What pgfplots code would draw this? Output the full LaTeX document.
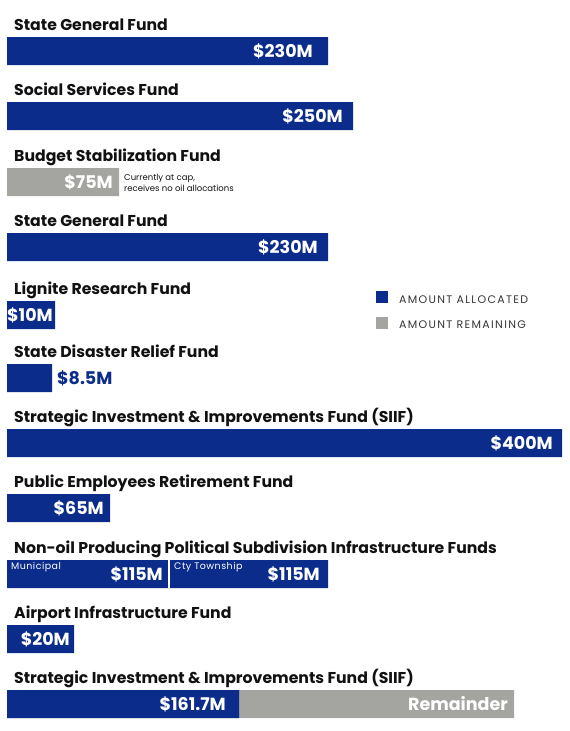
\documentclass[border=0pt]{standalone}
\usepackage{pgfplots}
\pgfplotsset{compat=1.18}
\usepackage{fontspec}
\setmainfont{Poppins}
\newfontfamily\legendfont{Poppins}[LetterSpace=12]
\newfontfamily\subfont{Poppins}[LetterSpace=5]
\definecolor{fundblue}{HTML}{0B2C8A}
\definecolor{fundgray}{HTML}{A4A4A1}
\definecolor{ink}{HTML}{111111}
\pgfplotsset{
  sqlegend/.style={legend image code/.code={\fill[##1] (0pt,-3pt) rectangle (12pt,9pt);}},
}
\tikzset{
  ttl/.style={anchor=base west, inner sep=0pt, text=ink, font=\fontsize{15.7}{18}\selectfont\bfseries},
  val/.style={anchor=base east, inner sep=0pt, text=white, font=\fontsize{17.5}{20}\selectfont\bfseries},
  sml/.style={anchor=base west, inner sep=0pt, font=\fontsize{8.5}{10}\selectfont},
}
\begin{document}
\begin{tikzpicture}
\begin{axis}[
  scale only axis, width=570pt, height=731pt,
  xmin=-7, xmax=563, ymin=0, ymax=731, y dir=reverse,
  axis line style={draw=none}, xtick=\empty, ytick=\empty,
  xbar, bar width=28, bar shift=0pt,
  sqlegend, reverse legend, legend cell align=left,
  legend style={draw=none, fill=none, at={(axis cs:369,291)}, anchor=north west,
    inner sep=0pt, row sep=12pt, nodes={inner sep=0pt},
    text=ink!85, font=\legendfont\fontsize{11}{12}\selectfont,
    /tikz/every odd column/.append style={column sep=11pt}},
]
% bar lengths as drawn, one row per fund (y = bar centre)
\addplot[fill=fundgray, draw=none] coordinates {(112,182) (507,704)};
\addlegendentry{AMOUNT REMAINING}
\addplot[fill=fundblue, draw=none] coordinates {
  (321,51) (346,116) (321,247) (48,315) (45,378)
  (555,443) (103,508) (321,574) (67,639) (232,704)};
\addlegendentry{AMOUNT ALLOCATED}
\addplot[fill=white, draw=none, forget plot] coordinates {(163,574)};
\addplot[fill=fundblue, draw=none, forget plot] coordinates {(161,574)};

\node[ttl] at (axis cs:7,30) {State General Fund};
\node[ttl] at (axis cs:7,95) {Social Services Fund};
\node[ttl] at (axis cs:7,161) {Budget Stabilization Fund};
\node[ttl] at (axis cs:7,226) {State General Fund};
\node[ttl] at (axis cs:7,294) {Lignite Research Fund};
\node[ttl] at (axis cs:7,357) {State Disaster Relief Fund};
\node[ttl] at (axis cs:7,422) {Strategic Investment \& Improvements Fund (SIIF)};
\node[ttl] at (axis cs:7,487) {Public Employees Retirement Fund};
\node[ttl] at (axis cs:7,553) {Non-oil Producing Political Subdivision Infrastructure Funds};
\node[ttl] at (axis cs:7,618) {Airport Infrastructure Fund};
\node[ttl] at (axis cs:7,683) {Strategic Investment \& Improvements Fund (SIIF)};

\node[val] at (axis cs:306,57) {\$230M};
\node[val] at (axis cs:336,122) {\$250M};
\node[val] at (axis cs:106,188) {\$75M};
\node[val] at (axis cs:311,253) {\$230M};
\node[val] at (axis cs:46,321) {\$10M};
\node[val, anchor=base west, text=fundblue] at (axis cs:50,384) {\$8.5M};
\node[val] at (axis cs:546,449) {\$400M};
\node[val] at (axis cs:97,514) {\$65M};
\node[val] at (axis cs:156,580) {\$115M};
\node[val] at (axis cs:313,580) {\$115M};
\node[val] at (axis cs:63,645) {\$20M};
\node[val] at (axis cs:219,710) {\$161.7M};
\node[val] at (axis cs:501,710) {Remainder};

\node[sml, text=white, font=\subfont\fontsize{9.5}{11}\selectfont] at (axis cs:4,569) {Municipal};
\node[sml, text=white, font=\subfont\fontsize{9.5}{11}\selectfont] at (axis cs:167,569) {Cty Township};
\node[sml, text=ink] at (axis cs:117,180) {Currently at cap,};
\node[sml, text=ink] at (axis cs:117,191) {receives no oil allocations};
\end{axis}
\end{tikzpicture}
\end{document}
